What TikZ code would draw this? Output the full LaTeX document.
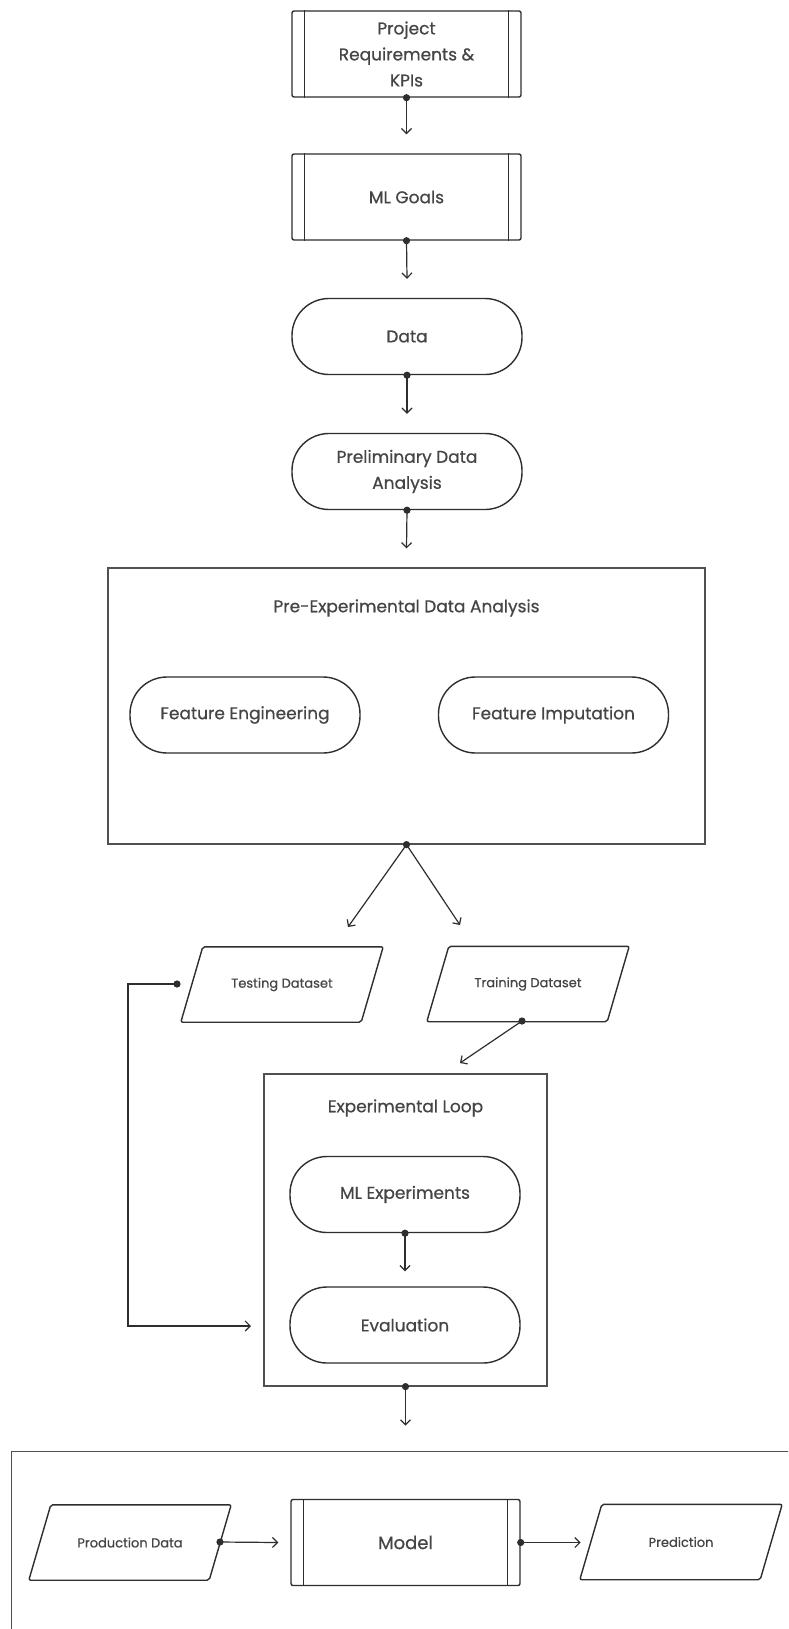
\documentclass[tikz,border=0pt]{standalone}
\usepackage{fontspec}
\setmainfont{Poppins}[FakeBold=0.6]
\usetikzlibrary{arrows.meta,calc}
\definecolor{ln}{HTML}{2E2E2E}
\definecolor{gl}{HTML}{505050}
\definecolor{tx}{HTML}{454545}
\tikzset{
  base/.style={draw=ln, line width=1.4pt, text=tx, align=center, inner sep=0pt,
    font=\fontsize{17}{26}\selectfont},
  subr/.style={base, rounded corners=2pt, minimum width=229pt, minimum height=86pt},
  term/.style={base, rounded corners=37pt, minimum width=230pt, minimum height=76pt},
  grp/.style={draw=gl, line width=1.2pt, inner sep=0pt},
  para/.style={text=tx, inner sep=0pt, minimum width=202pt, minimum height=75pt,
    font=\fontsize{13}{15}\selectfont},
  conn/.style={draw=ln, line width=1.2pt, -{Straight Barb[length=5pt,width=10pt]}},
  lbl/.style={text=tx, inner sep=0pt, font=\fontsize{17}{20}\selectfont}
}
\newcommand\subrbars[1]{%
  \draw[ln, line width=1.4pt] ([xshift=13pt]#1.north west) -- ([xshift=13pt]#1.south west)
    ([xshift=-13pt]#1.north east) -- ([xshift=-13pt]#1.south east);}
\newcommand\paraout[1]{%
  \draw[ln, line width=1.4pt, rounded corners=2pt] ([xshift=22pt]#1.north west) -- (#1.north east)
    -- ([xshift=-22pt]#1.south east) -- (#1.south west) -- cycle;}
\newcommand\startdot[1]{\fill[ln] (#1) circle (3.6pt);}
\begin{document}
\begin{tikzpicture}[x=1pt,y=-1pt]
\useasboundingbox (0,0) rectangle (788,1629);
\clip (0,0) rectangle (788,1629);
\fill[white] (0,0) rectangle (788,1629);

% top column
\node[subr] (proj) at (406.5,54) {Project\\Requirements \&\\KPIs};
\subrbars{proj}
\node[subr] (goals) at (406.5,197) {ML Goals};
\subrbars{goals}
\node[term] (data) at (407,336.5) {Data};
\node[term] (prelim) at (407,471.5) {Preliminary Data\\Analysis};

% pre-experimental group
\node[grp, minimum width=597pt, minimum height=276pt] (preexp) at (406.5,706) {};
\node[lbl] (preexpt) at (406.5,608) {Pre-Experimental Data Analysis};
\node[term] (feng) at (245,715) {Feature Engineering};
\node[term] (fimp) at (553.5,715) {Feature Imputation};

% datasets
\node[para] (test) at (282,984.5) {Testing Dataset};
\paraout{test}
\node[para] (train) at (528,984) {Training Dataset};
\paraout{train}

% experimental loop
\node[grp, minimum width=283pt, minimum height=312pt] (loop) at (405.5,1230) {};
\node[lbl] (loopt) at (405.5,1108) {Experimental Loop};
\node[term] (mlexp) at (405,1194.5) {ML Experiments};
\node[term] (eval) at (405,1325) {Evaluation};

% production group
\node[grp, minimum width=800pt, minimum height=200pt, anchor=north west] (prodgrp) at (11,1451) {};
\node[para] (prod) at (130,1542.5) {Production Data};
\paraout{prod}
\node[subr, font=\fontsize{18}{20}\selectfont] (model) at (405.5,1542.5) {Model};
\subrbars{model}
\node[para] (pred) at (681,1542) {Prediction};
\paraout{pred}

% free ends
\coordinate (tin) at (348,927);
\coordinate (trin) at (460,925);
\coordinate (loopin) at (460,1063);
\coordinate (tdot) at (177,984);
\coordinate (trdot) at (522,1021);
\coordinate (bend1) at (128,984);
\coordinate (bend2) at (128,1326);
\coordinate (evin) at (251,1326);
\coordinate (proddot) at (220,1542);

% connectors
\draw[conn] (proj.south) -- ([yshift=19pt]goals.north);
\draw[conn] (goals.south) -- ([yshift=19pt]data.north);
\draw[conn] (data.south) -- ([yshift=19pt]prelim.north);
\draw[conn] (prelim.south) -- ([yshift=19pt]preexp.north);
\draw[conn] (preexp.south) -- (tin);
\draw[conn] (preexp.south) -- (trin);
\draw[conn] (trdot) -- (loopin);
\draw[conn] (tdot) -- (bend1) -- (bend2) -- (evin);
\draw[conn] (mlexp.south) -- ([yshift=15pt]eval.north);
\draw[conn] (loop.south) -- ([yshift=-39pt]loop.south);
\draw[conn] (proddot) -- ([xshift=-12pt]model.west);
\draw[conn] (model.east) -- ([xshift=60pt]model.east);

% start dots
\startdot{proj.south}
\startdot{goals.south}
\startdot{data.south}
\startdot{prelim.south}
\startdot{preexp.south}
\startdot{trdot}
\startdot{tdot}
\startdot{mlexp.south}
\startdot{loop.south}
\startdot{proddot}
\startdot{model.east}
\end{tikzpicture}
\end{document}
